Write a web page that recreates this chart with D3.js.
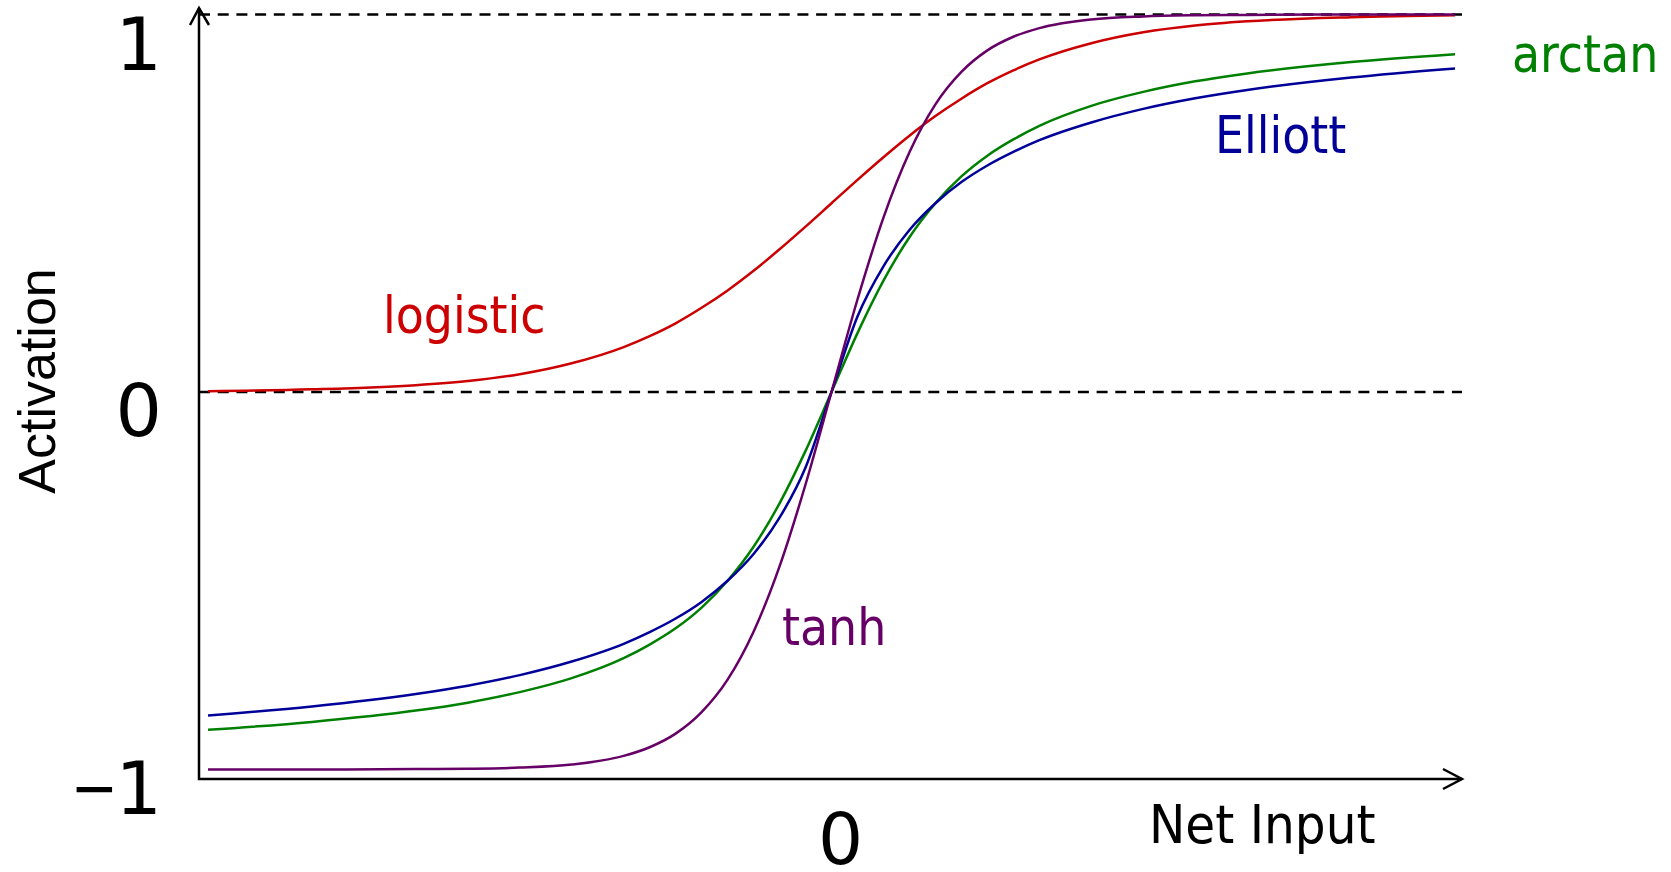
<!DOCTYPE html>
<html>
<head>
<meta charset="utf-8">
<script src="https://cdn.jsdelivr.net/npm/d3@7"></script>
<style>
  html, body { margin: 0; padding: 0; background: #fff; }
</style>
</head>
<body>
<div id="chart"></div>
<script>
// net input samples (x) and the activation
var netInput = [-6, -5, -4, -3.5, -3, -2.5, -2, -1.75, -1.5, -1.25, -1, -0.75, -0.5, -0.25, 0,
                0.25, 0.5, 0.75, 1, 1.25, 1.5, 1.75, 2, 2.5, 3, 3.5, 4, 5, 6];

var logistic = [0.002, 0.007, 0.018, 0.029, 0.047, 0.076, 0.119, 0.148, 0.182, 0.223, 0.269, 0.321, 0.378, 0.438, 0.5,
                0.562, 0.622, 0.679, 0.731, 0.777, 0.818, 0.852, 0.881, 0.924, 0.953, 0.971, 0.982, 0.993, 0.998];

var tanh = [-1.0, -1.0, -0.999, -0.998, -0.995, -0.987, -0.964, -0.941, -0.905, -0.848, -0.762, -0.635, -0.462, -0.245, 0,
            0.245, 0.462, 0.635, 0.762, 0.848, 0.905, 0.941, 0.964, 0.987, 0.995, 0.998, 0.999, 1.0, 1.0];

var elliott = [-0.857, -0.833, -0.8, -0.778, -0.75, -0.714, -0.667, -0.636, -0.6, -0.556, -0.5, -0.429, -0.333, -0.2, 0,
               0.2, 0.333, 0.429, 0.5, 0.556, 0.6, 0.636, 0.667, 0.714, 0.75, 0.778, 0.8, 0.833, 0.857];

var arctan = [-0.895, -0.874, -0.844, -0.823, -0.795, -0.758, -0.705, -0.669, -0.626, -0.571, -0.5, -0.41, -0.295, -0.156, 0,
              0.156, 0.295, 0.41, 0.5, 0.571, 0.626, 0.669, 0.705, 0.758, 0.795, 0.823, 0.844, 0.874, 0.895];

var yTicks = [1, 0, -1];
var yTickLabels = ["1", "0", "1"];
var xTicks = [0];
var xTickLabels = ["0"];

var series = [
  { name: "logistic", values: logistic, color: "#cc0000" },
  { name: "arctan",   values: arctan,   color: "#008000" },
  { name: "Elliott",  values: elliott,  color: "#000099" },
  { name: "tanh",     values: tanh,     color: "#660066" }
];

var W = 1671, H = 872;
var axisX = 199, axisY = 779, axisTop = 8, axisRight = 1462;

var x = d3.scaleLinear().domain([-6, 6]).range([208, 1455]);
var y = d3.scaleLinear().domain([-1, 1]).range([769.5, 14.5]);

var svg = d3.select("#chart").append("svg")
  .attr("width", W)
  .attr("height", H)
  .attr("viewBox", "0 0 " + W + " " + H);

svg.append("rect").attr("width", W).attr("height", H).attr("fill", "#fff");

// dashed guides at 1 and 0
svg.selectAll("line.guide")
  .data([1, 0])
  .enter().append("line")
  .attr("class", "guide")
  .attr("x1", axisX)
  .attr("x2", axisRight)
  .attr("y1", function(d) { return y(d); })
  .attr("y2", function(d) { return y(d); })
  .attr("stroke", "#000")
  .attr("stroke-width", 2.6)
  .attr("stroke-dasharray", "11,7.7");

var line = d3.line()
  .x(function(d) { return x(d[0]); })
  .y(function(d) { return y(d[1]); })
  .curve(d3.curveMonotoneX);

svg.selectAll("path.curve")
  .data(series)
  .enter().append("path")
  .attr("class", "curve")
  .attr("fill", "none")
  .attr("stroke", function(d) { return d.color; })
  .attr("stroke-width", 2.5)
  .attr("d", function(d) {
    return line(netInput.map(function(v, i) { return [v, d.values[i]]; }));
  });

// axes with open arrow heads
svg.append("path")
  .attr("fill", "none")
  .attr("stroke", "#000")
  .attr("stroke-width", 2.5)
  .attr("d", "M" + axisX + "," + axisTop + " L" + axisX + "," + axisY + " L" + axisRight + "," + axisY);

svg.append("path")
  .attr("fill", "none")
  .attr("stroke", "#000")
  .attr("stroke-width", 2.5)
  .attr("d", "M" + (axisX - 9) + "," + (axisTop + 17) + " L" + axisX + "," + axisTop + " L" + (axisX + 10) + "," + (axisTop + 17) +
             " M" + (axisRight - 19) + "," + (axisY - 10) + " L" + axisRight + "," + axisY + " L" + (axisRight - 19) + "," + (axisY + 10));

// tick labels
var ytick = svg.selectAll("text.ytick")
  .data(yTicks)
  .enter().append("text")
  .attr("class", "ytick")
  .attr("x", 162)
  .attr("y", function(d) { return Math.max(y(d) + 44, 70); })
  .attr("text-anchor", "end")
  .attr("font-family", "DejaVu Sans, sans-serif")
  .attr("font-size", "73px")
  .attr("fill", "#000");

ytick.filter(function(d) { return d < 0; })
  .append("tspan")
  .attr("font-family", "Liberation Sans, Arial, sans-serif")
  .text("\u2212");

ytick.append("tspan")
  .text(function(d, i) { return yTickLabels[i]; });

svg.selectAll("text.xtick")
  .data(xTicks)
  .enter().append("text")
  .attr("class", "xtick")
  .attr("x", function(d) { return x(d) + 9; })
  .attr("y", 864)
  .attr("text-anchor", "middle")
  .attr("font-family", "DejaVu Sans, sans-serif")
  .attr("font-size", "71px")
  .attr("fill", "#000")
  .text(function(d, i) { return xTickLabels[i]; });

// axis titles
svg.append("text")
  .attr("transform", "translate(55,381) rotate(-90)")
  .attr("text-anchor", "middle")
  .attr("font-family", "Liberation Sans, Arial, sans-serif")
  .attr("font-size", "52px")
  .attr("fill", "#000")
  .text("Activation");

svg.append("text")
  .attr("x", 1149)
  .attr("y", 843)
  .attr("font-family", "DejaVu Sans Condensed, DejaVu Sans, sans-serif")
  .attr("font-stretch", "condensed")
  .attr("font-size", "54px")
  .attr("fill", "#000")
  .text("Net Input");

// curve labels
var labels = [
  { text: "logistic", x: 383,  y: 333, color: "#cc0000" },
  { text: "tanh",     x: 782,  y: 645, color: "#660066" },
  { text: "Elliott",  x: 1215, y: 153, color: "#000099" },
  { text: "arctan",   x: 1512, y: 72,  color: "#008000" }
];

svg.selectAll("text.label")
  .data(labels)
  .enter().append("text")
  .attr("class", "label")
  .attr("x", function(d) { return d.x; })
  .attr("y", function(d) { return d.y; })
  .attr("font-family", "DejaVu Sans Condensed, DejaVu Sans, sans-serif")
  .attr("font-stretch", "condensed")
  .attr("font-size", "51px")
  .attr("fill", function(d) { return d.color; })
  .text(function(d) { return d.text; });
</script>
</body>
</html>
